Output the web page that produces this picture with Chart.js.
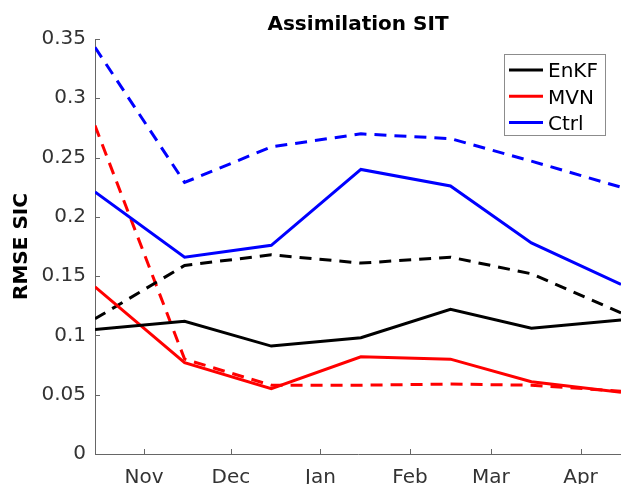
<!DOCTYPE html>
<html>
<head>
<meta charset="utf-8">
<script src="https://cdn.jsdelivr.net/npm/chart.js@4/dist/chart.umd.min.js"></script>
<style>
  html, body { margin: 0; padding: 0; background: #fff; }
  #wrap { width: 621px; height: 484px; }
</style>
</head>
<body>
<div id="wrap"><canvas id="chart" width="621" height="484"></canvas></div>
<script>
// days counted from 1 Oct; data sit mid-month, ticks at the 1st of each month
const pointDays = [14, 45, 75, 106, 137, 165, 196];
const monthDays = [31, 61, 92, 123, 151, 182];
const monthLabels = ['Nov', 'Dec', 'Jan', 'Feb', 'Mar', 'Apr'];

const enkfSolid  = [0.105, 0.112, 0.091, 0.098, 0.122, 0.106, 0.113];
const enkfDashed = [0.114, 0.159, 0.168, 0.161, 0.166, 0.152, 0.119];
const mvnSolid   = [0.141, 0.077, 0.055, 0.082, 0.080, 0.061, 0.052];
const mvnDashed  = [0.277, 0.080, 0.058, 0.058, 0.059, 0.058, 0.053];
const ctrlSolid  = [0.221, 0.166, 0.176, 0.240, 0.226, 0.178, 0.143];
const ctrlDashed = [0.343, 0.229, 0.259, 0.270, 0.266, 0.247, 0.225];

const legendNames = ['EnKF', 'MVN', 'Ctrl'];
const legendColors = ['#000000', '#ff0000', '#0000ff'];

const FONT = '"DejaVu Sans", sans-serif';

function toPoints(vals) {
  return vals.map((v, i) => ({ x: pointDays[i], y: v }));
}

function line(label, color, vals, dashed) {
  return {
    label: label,
    data: toPoints(vals),
    borderColor: color,
    backgroundColor: color,
    borderWidth: 3,
    borderDash: dashed ? [12, 8] : [],
    pointRadius: 0,
    tension: 0,
    fill: false
  };
}

// inward ticks, title over the plot area and the boxed legend
const matlabBits = {
  id: 'matlabBits',
  afterDatasetsDraw(chart) {
    const ctx = chart.ctx;
    const area = chart.chartArea;
    const xs = chart.scales.x;
    const ys = chart.scales.y;

    ctx.save();
    ctx.strokeStyle = '#666';
    ctx.lineWidth = 1;
    ctx.beginPath();
    monthDays.forEach(d => {
      const px = Math.round(xs.getPixelForValue(d)) + 0.5;
      ctx.moveTo(px, area.bottom);
      ctx.lineTo(px, area.bottom - 5);
    });
    for (let v = 0; v <= 0.3501; v += 0.05) {
      const py = Math.round(ys.getPixelForValue(v)) + 0.5;
      ctx.moveTo(area.left, py);
      ctx.lineTo(area.left + 5, py);
    }
    ctx.stroke();

    ctx.fillStyle = '#000';
    ctx.font = 'bold 20px ' + FONT;
    ctx.textAlign = 'center';
    ctx.textBaseline = 'alphabetic';
    ctx.fillText('Assimilation SIT', (area.left + area.right) / 2, 30);

    ctx.fillStyle = '#fff';
    ctx.fillRect(504.5, 54.5, 101, 81);
    ctx.strokeStyle = '#8c8c8c';
    ctx.strokeRect(504.5, 54.5, 101, 81);
    ctx.font = '20px ' + FONT;
    ctx.textAlign = 'left';
    legendNames.forEach((name, i) => {
      const y = 70 + i * 26.3;
      ctx.strokeStyle = legendColors[i];
      ctx.lineWidth = 3;
      ctx.beginPath();
      ctx.moveTo(509, y);
      ctx.lineTo(543, y);
      ctx.stroke();
      ctx.fillStyle = '#000';
      ctx.fillText(name, 548, y + 7.3);
    });
    ctx.restore();
  }
};

new Chart(document.getElementById('chart').getContext('2d'), {
  type: 'line',
  data: {
    datasets: [
      line('EnKF', '#000000', enkfSolid, false),
      line('MVN', '#ff0000', mvnSolid, false),
      line('Ctrl', '#0000ff', ctrlSolid, false),
      line('EnKF dashed', '#000000', enkfDashed, true),
      line('MVN dashed', '#ff0000', mvnDashed, true),
      line('Ctrl dashed', '#0000ff', ctrlDashed, true)
    ]
  },
  options: {
    responsive: false,
    animation: false,
    layout: { padding: { top: 39, left: 0, right: 0, bottom: 0 } },
    plugins: {
      legend: { display: false },
      title: { display: false },
      tooltip: { enabled: false }
    },
    scales: {
      x: {
        type: 'linear',
        min: pointDays[0],
        max: pointDays[pointDays.length - 1],
        afterBuildTicks: axis => { axis.ticks = monthDays.map(d => ({ value: d })); },
        afterFit: axis => {
          axis.height = 30;
          axis.paddingLeft = 0;
          axis.paddingRight = 0;
        },
        grid: { drawOnChartArea: false, drawTicks: false },
        border: { display: true, color: '#666', width: 1 },
        ticks: {
          autoSkip: false,
          maxRotation: 0,
          padding: 12,
          color: '#333',
          font: { family: FONT, size: 20 },
          callback: v => monthLabels[monthDays.indexOf(v)]
        }
      },
      y: {
        min: 0,
        max: 0.35,
        afterBuildTicks: axis => {
          axis.ticks = [0, 0.05, 0.1, 0.15, 0.2, 0.25, 0.3, 0.35].map(v => ({ value: v }));
        },
        afterFit: axis => {
          axis.width = 95;
          axis.paddingTop = 0;
          axis.paddingBottom = 0;
        },
        grid: { drawOnChartArea: false, drawTicks: false },
        border: { display: true, color: '#666', width: 1 },
        ticks: {
          padding: 9,
          color: '#333',
          font: { family: FONT, size: 20 },
          callback: v => String(parseFloat(v.toFixed(2)))
        },
        title: {
          display: true,
          text: 'RMSE SIC',
          color: '#000',
          font: { family: FONT, size: 20, weight: 'bold' },
          padding: { top: 10, bottom: 0 }
        }
      }
    }
  },
  plugins: [matlabBits]
});
</script>
</body>
</html>
